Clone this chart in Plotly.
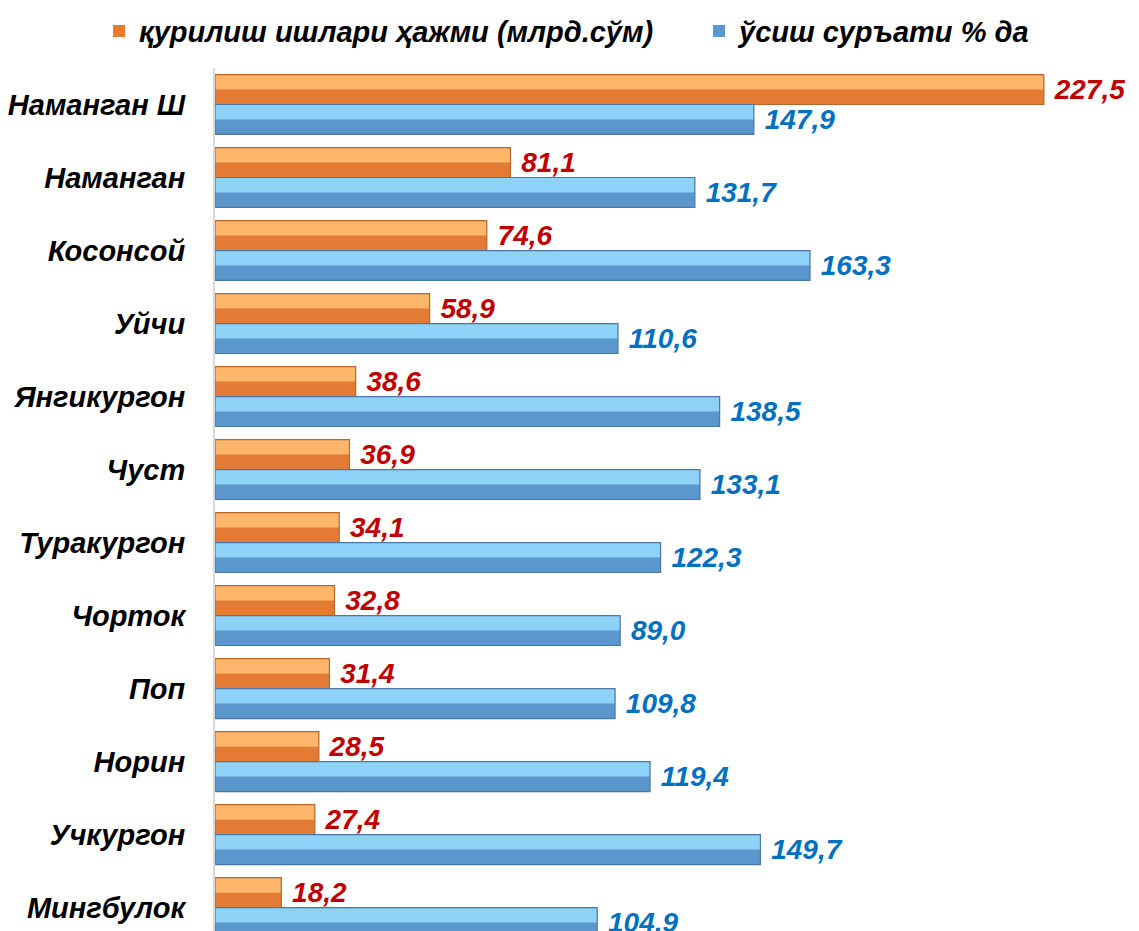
import plotly.graph_objects as go

# districts, top to bottom
districts = ['Наманган Ш', 'Наманган', 'Косонсой', 'Уйчи', 'Янгикургон', 'Чуст',
             'Туракургон', 'Чорток', 'Поп', 'Норин', 'Учкургон', 'Мингбулок']

# construction volume, bn sum
volume = [227.5, 81.1, 74.6, 58.9, 38.6, 36.9, 34.1, 32.8, 31.4, 28.5, 27.4, 18.2]
volume_labels = ['227,5', '81,1', '74,6', '58,9', '38,6', '36,9',
                 '34,1', '32,8', '31,4', '28,5', '27,4', '18,2']

# growth rate, %  (Чорток bar is drawn ~111 in the source although labelled 89,0)
growth = [147.9, 131.7, 163.3, 110.6, 138.5, 133.1, 122.3, 111.2, 109.8, 119.4, 149.7, 104.9]
growth_labels = ['147,9', '131,7', '163,3', '110,6', '138,5', '133,1',
                 '122,3', '89,0', '109,8', '119,4', '149,7', '104,9']

FONT = 'Liberation Sans, Arial, sans-serif'
ORANGE_DARK, ORANGE_LIGHT, ORANGE_LINE = '#E47B34', '#FDB66B', '#B9652C'
BLUE_DARK, BLUE_LIGHT, BLUE_LINE = '#5B97CD', '#8FD2F8', '#4A77A3'
W = 0.41
NB = '\u00a0'


def bar_set(vals, labels, name, legend, dark, light, line, offset, text_color):
    """full dark bar (with label) + light top strip + outline on top"""
    return [
        go.Bar(x=vals, y=districts, orientation='h', name=name, legend=legend,
               offset=offset, width=W,
               marker=dict(color=dark, line=dict(width=0)),
               text=[NB + t for t in labels], textposition='outside',
               constraintext='none', cliponaxis=False,
               textfont=dict(family=FONT, size=28, color=text_color,
                             weight='bold', style='italic')),
        go.Bar(x=vals, y=districts, orientation='h', showlegend=False,
               offset=offset, width=W * 0.5,
               marker=dict(color=light, line=dict(width=0)), hoverinfo='skip'),
        go.Bar(x=vals, y=districts, orientation='h', showlegend=False,
               offset=offset, width=W,
               marker=dict(color='rgba(0,0,0,0)', line=dict(color=line, width=1.2)),
               hoverinfo='skip'),
    ]


fig = go.Figure(
    bar_set(volume, volume_labels, 'қурилиш ишлари ҳажми (млрд.сўм)', 'legend',
            ORANGE_DARK, ORANGE_LIGHT, ORANGE_LINE, -W, '#C00000')
    + bar_set(growth, growth_labels, 'ўсиш суръати % да', 'legend2',
              BLUE_DARK, BLUE_LIGHT, BLUE_LINE, 0, '#0070C0')
)

legend_font = dict(family=FONT, size=29, color='black', weight='bold', style='italic')
legend_common = dict(orientation='h', xref='container', yref='container',
                     y=0.975, xanchor='left', yanchor='middle',
                     bgcolor='rgba(0,0,0,0)', font=legend_font)

# page body has an 8px margin, so the figure is sized 8px smaller
fig.update_layout(
    width=1131, height=923,
    barmode='overlay',
    plot_bgcolor='white', paper_bgcolor='white',
    margin=dict(l=207, r=0, t=60, b=0, autoexpand=False),
    xaxis=dict(visible=False, range=[0, 253.6]),
    yaxis=dict(range=[11.32, -0.5], showline=True, linecolor='#D9D9D9', linewidth=2,
               showgrid=False, zeroline=False, ticks='', ticklabelstandoff=22,
               tickfont=dict(family=FONT, size=29, color='black',
                             weight='bold', style='italic')),
    legend=dict(x=0.0805, **legend_common),
    legend2=dict(x=0.611, **legend_common),
    showlegend=True,
)

fig.write_html('out.html')
